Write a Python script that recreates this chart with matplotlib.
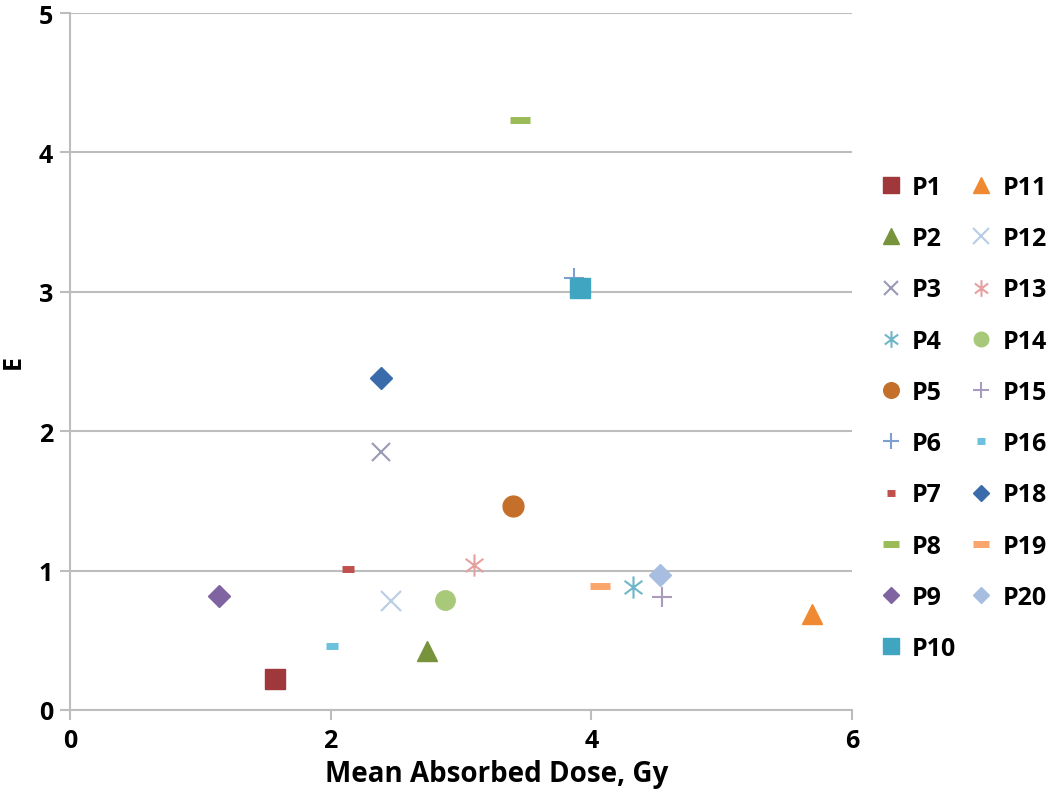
import matplotlib
matplotlib.use('Agg')
from matplotlib import pyplot as plt
from matplotlib.path import Path

# data
patients = ['P1', 'P2', 'P3', 'P4', 'P5', 'P6', 'P7', 'P8', 'P9', 'P10',
            'P11', 'P12', 'P13', 'P14', 'P15', 'P16', 'P18', 'P19', 'P20']
dose = [1.57, 2.74, 2.39, 4.32, 3.40, 3.87, 2.13, 3.45, 1.14, 3.91,
        5.69, 2.46, 3.10, 2.88, 4.54, 2.01, 2.39, 4.07, 4.53]
e_val = [0.22, 0.42, 1.85, 0.88, 1.46, 3.10, 1.01, 4.23, 0.82, 3.03,
         0.69, 0.78, 1.04, 0.79, 0.81, 0.46, 2.38, 0.89, 0.97]

# thin six-armed star like the spreadsheet marker
star = Path([(0, -1), (0, 1), (-0.8, -0.6), (0.8, 0.6), (-0.8, 0.6), (0.8, -0.6)],
            [Path.MOVETO, Path.LINETO] * 3)

# marker, size, colour, edge width
styles = [
    ('s', 15, '#A0373A', 1),
    ('^', 15, '#77933C', 1),
    ('x', 13, '#9A9AB5', 1.5),
    (star, 16, '#6FB7C8', 1.5),
    ('o', 15, '#C5702A', 1),
    ('+', 15, '#7F9FD0', 1.5),
    ('_', 8, '#C0504D', 5),
    ('_', 15, '#9BBB59', 5),
    ('D', 11, '#8064A2', 1),
    ('s', 15, '#3FA5C0', 1),
    ('^', 15, '#F08A32', 1),
    ('x', 15, '#B9CDE5', 1.5),
    (star, 16, '#E6A0A0', 1.5),
    ('o', 14, '#A9C97A', 1),
    ('+', 15, '#A99BBE', 1.5),
    ('_', 8, '#6CC1DC', 5),
    ('D', 11, '#3A6BAA', 1),
    ('_', 15, '#FAA56B', 5),
    ('D', 11, '#A8BEE0', 1),
]

plt.rcParams['font.family'] = ['Open Sans', 'DejaVu Sans']

fig = plt.figure(figsize=(10.5, 8.03), dpi=100)
ax = fig.add_axes([70 / 1050, 1 - 711 / 803, 782 / 1050, 697 / 803])

for name, x, y, (m, ms, c, mew) in zip(patients, dose, e_val, styles):
    ax.plot([x], [y], linestyle='none', marker=m, markersize=ms, color=c,
            markeredgecolor=c, markeredgewidth=mew, label=name)

ax.set_xlim(0, 6)
ax.set_ylim(0, 5)
ax.set_xticks([0, 2, 4, 6])
ax.set_yticks([0, 1, 2, 3, 4, 5])
ax.grid(axis='y', color='#BDBDBD', linewidth=1.5)
ax.set_axisbelow(True)
for s in ['top', 'right']:
    ax.spines[s].set_visible(False)
for s in ['left', 'bottom']:
    ax.spines[s].set_color('#BDBDBD')
    ax.spines[s].set_linewidth(1.5)
ax.tick_params(axis='x', length=7, color='#BDBDBD', width=1.5, labelsize=18, pad=6)
ax.tick_params(axis='y', length=7, color='#BDBDBD', width=1.5, labelsize=18, pad=5)
for lab in ax.get_xticklabels() + ax.get_yticklabels():
    lab.set_fontweight('bold')

ax.set_xlabel('Mean Absorbed Dose, Gy', fontsize=20, fontweight='bold')
ax.xaxis.set_label_coords(0.546, -0.07)
ax.set_ylabel('E', fontsize=18, fontweight='bold')
ax.yaxis.set_label_coords(-0.057, 0.5)

leg = ax.legend(ncol=2, loc='upper left', bbox_to_anchor=(1.005, 0.80),
                frameon=False, markerscale=0.75, handlelength=1.0,
                handletextpad=0.35, columnspacing=0.5, labelspacing=1.05,
                prop={'size': 18, 'weight': 'bold'})

fig.savefig('out.png', dpi=100)
